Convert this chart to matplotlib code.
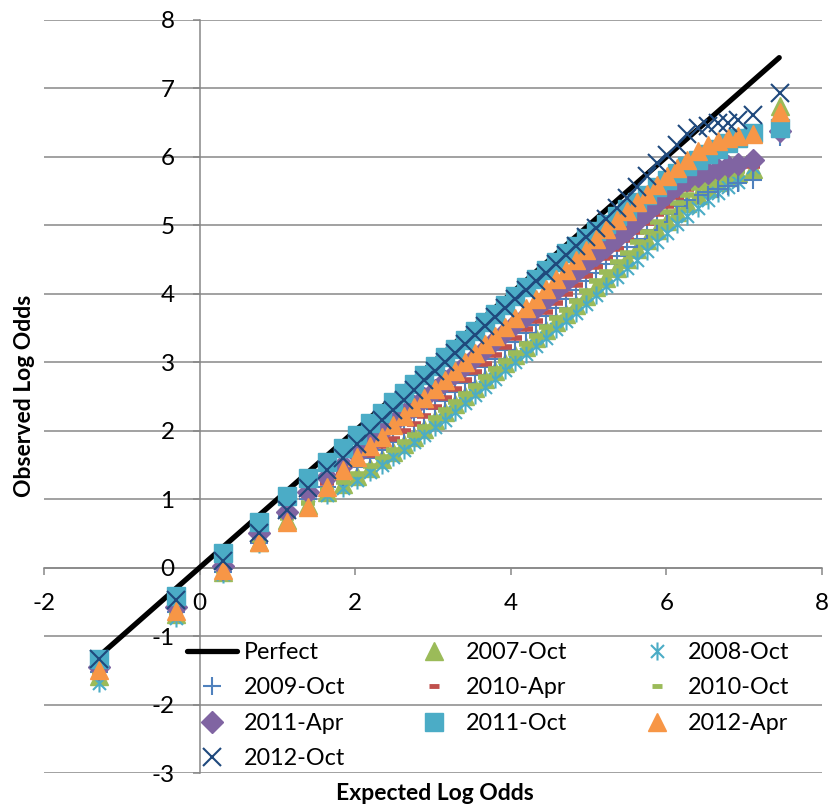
import matplotlib
matplotlib.use("Agg")
import matplotlib.pyplot as plt
from matplotlib.path import Path

plt.rcParams['font.family'] = ['Lato', 'DejaVu Sans']
plt.rcParams['axes.unicode_minus'] = False

# expected log odds (shared bins)
x = [-1.29, -0.30, 0.30, 0.76, 1.12, 1.39, 1.64, 1.84, 2.02, 2.19,
     2.35, 2.49, 2.63, 2.76, 2.89, 3.02, 3.15, 3.28, 3.41, 3.54,
     3.67, 3.80, 3.93, 4.06, 4.19, 4.32, 4.45, 4.58, 4.71, 4.84,
     4.97, 5.10, 5.23, 5.36, 5.49, 5.62, 5.75, 5.88, 6.01, 6.14,
     6.27, 6.40, 6.53, 6.66, 6.79, 6.92, 7.11, 7.46]

perfect_x = [-1.29, 7.45]
perfect_y = [-1.29, 7.45]

# observed log odds per snapshot
y_2007_oct = [-1.58, -0.68, -0.06, 0.38, 0.70, 0.92, 1.10, 1.22, 1.34, 1.46,
              1.58, 1.69, 1.80, 1.91, 2.03, 2.15, 2.27, 2.39, 2.51, 2.63,
              2.75, 2.87, 2.99, 3.11, 3.23, 3.35, 3.47, 3.59, 3.71, 3.84,
              3.97, 4.10, 4.23, 4.37, 4.51, 4.65, 4.79, 4.93, 5.07, 5.20,
              5.33, 5.45, 5.55, 5.63, 5.70, 5.76, 5.82, 6.75]
y_2008_oct = [-1.68, -0.73, -0.10, 0.34, 0.66, 0.88, 1.06, 1.17, 1.28, 1.39,
              1.50, 1.61, 1.72, 1.83, 1.94, 2.05, 2.16, 2.28, 2.40, 2.52,
              2.64, 2.76, 2.88, 3.00, 3.12, 3.24, 3.36, 3.48, 3.60, 3.72,
              3.85, 3.98, 4.11, 4.24, 4.37, 4.50, 4.63, 4.76, 4.89, 5.02,
              5.14, 5.26, 5.37, 5.47, 5.56, 5.64, 5.85, 6.40]
y_2009_oct = [-1.52, -0.65, -0.07, 0.36, 0.76, 1.00, 1.18, 1.33, 1.47, 1.60,
              1.72, 1.84, 1.96, 2.08, 2.20, 2.32, 2.44, 2.56, 2.69, 2.81,
              2.93, 3.05, 3.18, 3.30, 3.43, 3.55, 3.68, 3.80, 3.93, 4.05,
              4.18, 4.30, 4.43, 4.55, 4.68, 4.80, 4.93, 5.05, 5.17, 5.28,
              5.37, 5.44, 5.49, 5.53, 5.57, 5.62, 5.66, 6.29]
y_2010_apr = [-1.50, -0.62, -0.04, 0.40, 0.82, 1.06, 1.24, 1.38, 1.52, 1.65,
              1.77, 1.88, 1.99, 2.10, 2.22, 2.35, 2.48, 2.61, 2.74, 2.86,
              2.98, 3.10, 3.23, 3.36, 3.48, 3.61, 3.74, 3.87, 4.00, 4.13,
              4.26, 4.39, 4.52, 4.65, 4.78, 4.91, 5.04, 5.16, 5.29, 5.42,
              5.53, 5.62, 5.68, 5.73, 5.77, 5.81, 5.86, 6.33]
y_2010_oct = [-1.56, -0.66, -0.05, 0.40, 0.72, 0.95, 1.13, 1.25, 1.37, 1.49,
              1.61, 1.72, 1.83, 1.94, 2.06, 2.18, 2.30, 2.42, 2.54, 2.66,
              2.78, 2.90, 3.02, 3.14, 3.26, 3.38, 3.51, 3.64, 3.77, 3.90,
              4.04, 4.18, 4.32, 4.46, 4.60, 4.75, 4.90, 5.05, 5.19, 5.32,
              5.44, 5.54, 5.62, 5.69, 5.75, 5.80, 5.98, 6.55]
y_2011_apr = [-1.45, -0.58, 0.02, 0.50, 0.82, 1.10, 1.33, 1.50, 1.66, 1.80,
              2.00, 2.12, 2.24, 2.36, 2.48, 2.60, 2.72, 2.84, 2.96, 3.08,
              3.20, 3.32, 3.44, 3.56, 3.68, 3.80, 3.93, 4.06, 4.19, 4.32,
              4.45, 4.57, 4.69, 4.81, 4.93, 5.06, 5.20, 5.33, 5.46, 5.58,
              5.66, 5.72, 5.77, 5.82, 5.86, 5.90, 5.96, 6.38]
y_2011_oct = [-1.34, -0.42, 0.22, 0.67, 1.05, 1.31, 1.55, 1.75, 1.94, 2.12,
              2.26, 2.42, 2.55, 2.68, 2.81, 2.94, 3.07, 3.20, 3.33, 3.46,
              3.59, 3.71, 3.84, 3.97, 4.10, 4.22, 4.35, 4.47, 4.59, 4.70,
              4.81, 4.92, 5.02, 5.13, 5.24, 5.34, 5.45, 5.56, 5.66, 5.77,
              5.87, 5.96, 6.04, 6.12, 6.20, 6.27, 6.35, 6.42]
y_2012_apr = [-1.49, -0.64, -0.03, 0.38, 0.66, 0.89, 1.18, 1.43, 1.62, 1.77,
              1.91, 2.09, 2.22, 2.35, 2.48, 2.61, 2.74, 2.87, 3.00, 3.13,
              3.26, 3.39, 3.52, 3.65, 3.79, 3.93, 4.07, 4.21, 4.35, 4.49,
              4.64, 4.80, 4.94, 5.08, 5.21, 5.34, 5.46, 5.59, 5.72, 5.84,
              5.96, 6.08, 6.17, 6.23, 6.28, 6.30, 6.33, 6.65]
y_2012_oct = [-1.34, -0.48, 0.10, 0.50, 0.84, 1.16, 1.43, 1.60, 1.80, 1.98,
              2.15, 2.31, 2.45, 2.60, 2.74, 2.87, 3.01, 3.14, 3.27, 3.40,
              3.53, 3.66, 3.79, 3.92, 4.05, 4.18, 4.31, 4.44, 4.57, 4.70,
              4.83, 4.96, 5.10, 5.25, 5.40, 5.56, 5.72, 5.91, 6.03, 6.17,
              6.33, 6.42, 6.45, 6.50, 6.50, 6.54, 6.61, 6.93]

# excel style asterisk: vertical bar + x
star = Path([(0, -1), (0, 1), (-0.72, -0.72), (0.72, 0.72), (-0.72, 0.72), (0.72, -0.72)],
            [Path.MOVETO, Path.LINETO, Path.MOVETO, Path.LINETO, Path.MOVETO, Path.LINETO])

fig = plt.figure(figsize=(8.31, 8.07), dpi=100)
ax = fig.add_axes([44 / 831, 1 - 773 / 807, (822 - 44) / 831, (773 - 20) / 807])

grid_col = '#878787'
for yy in range(-3, 9):
    ax.axhline(yy, color=grid_col, lw=1.1, zorder=0)

h = {}
h['Perfect'], = ax.plot(perfect_x, perfect_y, color='black', lw=3.8, solid_capstyle='round')
h['2007-Oct'], = ax.plot(x, y_2007_oct, ls='none', marker='^', ms=13.5, color='#9BBB59', mec='#9BBB59')
h['2008-Oct'], = ax.plot(x, y_2008_oct, ls='none', marker=star, ms=13, mew=1.5, color='#4BACC6', mfc='none')
h['2009-Oct'], = ax.plot(x, y_2009_oct, ls='none', marker='+', ms=12.5, mew=1.5, color='#4F81BD')
h['2010-Apr'], = ax.plot(x, y_2010_apr, ls='none', marker='_', ms=10, mew=4, color='#C0504D')
h['2010-Oct'], = ax.plot(x, y_2010_oct, ls='none', marker='_', ms=10, mew=4, color='#9BBB59')
h['2011-Apr'], = ax.plot(x, y_2011_apr, ls='none', marker='D', ms=11, color='#8064A2', mec='#8064A2')
h['2011-Oct'], = ax.plot(x, y_2011_oct, ls='none', marker='s', ms=12.5, color='#4BACC6', mec='#4BACC6')
h['2012-Apr'], = ax.plot(x, y_2012_apr, ls='none', marker='^', ms=13.5, color='#F79646', mec='#F79646')
h['2012-Oct'], = ax.plot(x, y_2012_oct, ls='none', marker='x', ms=12.5, mew=1.5, color='#1F497D')

ax.set_xlim(-2, 8)
ax.set_ylim(-3, 8)
ax.set_xticks(range(-2, 9, 2))
ax.set_yticks(range(-3, 9))

ax.spines['left'].set_position(('data', 0))
ax.spines['bottom'].set_position(('data', 0))
ax.spines['top'].set_visible(False)
ax.spines['right'].set_visible(False)
for s in ['left', 'bottom']:
    ax.spines[s].set_color(grid_col)
    ax.spines[s].set_linewidth(1.1)
    ax.spines[s].set_zorder(0)
ax.tick_params(axis='both', colors=grid_col, labelcolor='black', labelsize=17.5, length=5, width=1.1)
ax.tick_params(axis='x', pad=13)
ax.tick_params(axis='y', pad=13)
ax.patch.set_visible(False)

# excel legend goes row by row, matplotlib fills columns
order = ['Perfect', '2009-Oct', '2011-Apr', '2012-Oct',
         '2007-Oct', '2010-Apr', '2011-Oct',
         '2008-Oct', '2010-Oct', '2012-Apr']
leg = fig.legend([h[k] for k in order], order, ncol=3, loc='upper left',
                 bbox_to_anchor=(187 / 831, 1 - 642 / 807), bbox_transform=fig.transFigure,
                 frameon=False, fontsize=16.8, borderpad=0, borderaxespad=0,
                 handlelength=2.15, handletextpad=0.28, columnspacing=2.75, labelspacing=0.62)
# dashes are drawn smaller in the legend
for lab, lh in zip(order, leg.legend_handles):
    if lab in ('2010-Apr', '2010-Oct'):
        lh.set_markersize(7.5)
        lh.set_markeredgewidth(3.5)

fig.text(435 / 831, 1 - 793 / 807, 'Expected Log Odds', ha='center', va='center',
         fontsize=16.5, fontweight='bold')
fig.text(25 / 831, 1 - 396 / 807, 'Observed Log Odds', ha='center', va='center',
         rotation=90, fontsize=16.5, fontweight='bold')

fig.savefig('out.png', dpi=100)
